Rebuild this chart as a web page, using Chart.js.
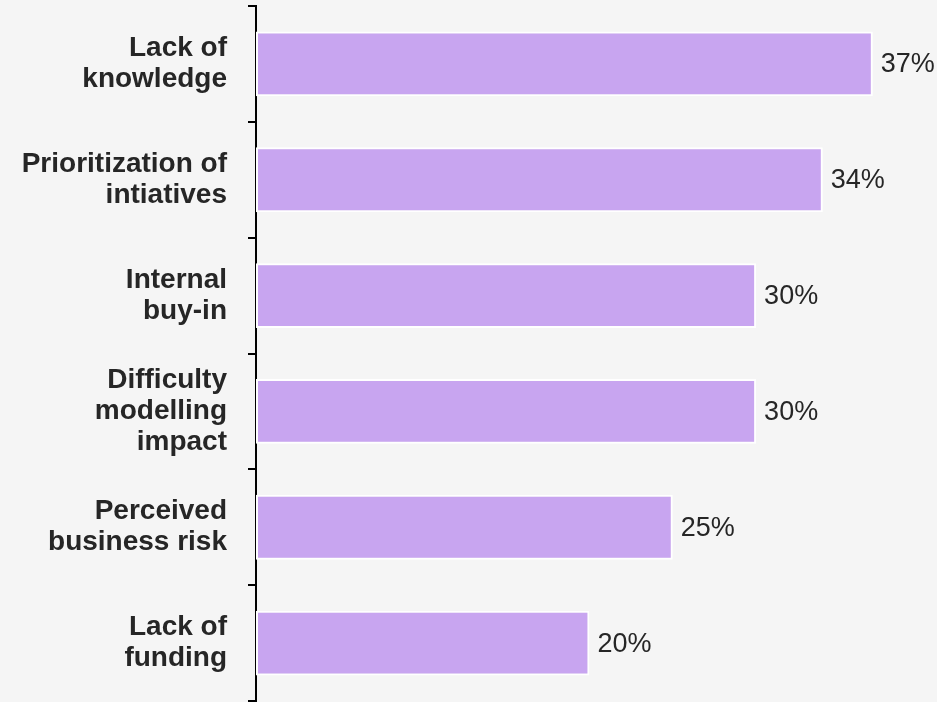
<!DOCTYPE html>
<html>
<head>
<meta charset="utf-8">
<script src="https://cdn.jsdelivr.net/npm/chart.js@4.4.1/dist/chart.umd.min.js"></script>
<style>
  html, body { margin: 0; padding: 0; background: #f5f5f5; }
  #wrap { width: 937px; height: 702px; position: relative; }
</style>
</head>
<body>
<div id="wrap"><canvas id="myChart"></canvas></div>
<script>
const categorias = [
  ["Lack of", "knowledge"],
  ["Prioritization of", "intiatives"],
  ["Internal", "buy-in"],
  ["Difficulty", "modelling", "impact"],
  ["Perceived", "business risk"],
  ["Lack of", "funding"]
];
const valores = [37, 34, 30, 30, 25, 20];
const etiquetasValor = ["37%", "34%", "30%", "30%", "25%", "20%"];

// escribe el % al lado de cada barra
const etiquetasPlugin = {
  id: "etiquetas",
  afterDatasetsDraw(chart) {
    const ctx = chart.ctx;
    const meta = chart.getDatasetMeta(0);
    ctx.save();
    ctx.font = "27px 'Liberation Sans', Arial, sans-serif";
    ctx.fillStyle = "#262626";
    ctx.textAlign = "left";
    ctx.textBaseline = "middle";
    meta.data.forEach((bar, i) => {
      ctx.fillText(etiquetasValor[i], bar.x + 8, bar.y + 1);
    });
    ctx.restore();
  }
};

const config = {
  type: "bar",
  data: {
    labels: categorias,
    datasets: [
      {
        data: valores,
        backgroundColor: "#c8a5f0",
        borderColor: "#ffffff",
        borderWidth: 2,
        borderSkipped: false,
        categoryPercentage: 1,
        barPercentage: 0.56
      }
    ]
  },
  options: {
    indexAxis: "y",
    responsive: true,
    maintainAspectRatio: false,
    animation: false,
    layout: { padding: { top: 6, bottom: 1, left: 0, right: 0 } },
    plugins: {
      legend: { display: false },
      tooltip: { enabled: false }
    },
    scales: {
      x: {
        display: false,
        min: 0,
        max: 40.85
      },
      y: {
        afterFit(scale) {
          scale.width = 256;
          scale.paddingTop = 0;
          scale.paddingBottom = 0;
        },
        border: { display: true, color: "#000000", width: 2 },
        grid: {
          display: true,
          offset: true,
          drawOnChartArea: false,
          drawTicks: true,
          tickLength: 8,
          color: "#000000",
          lineWidth: 2
        },
        ticks: {
          color: "#262626",
          padding: 21,
          font: { family: "'Liberation Sans', Arial, sans-serif", size: 28, weight: "bold", lineHeight: "31px" }
        }
      }
    }
  },
  plugins: [etiquetasPlugin]
};

new Chart(document.getElementById("myChart"), config);
</script>
</body>
</html>
